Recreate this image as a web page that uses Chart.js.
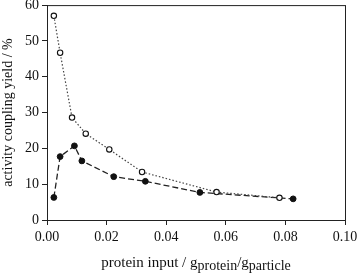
<!DOCTYPE html>
<html>
<head>
<meta charset="utf-8">
<script src="https://cdn.jsdelivr.net/npm/chart.js@4/dist/chart.umd.min.js"></script>
<style>
  html, body { margin: 0; padding: 0; background: #fff; }
  #wrap { width: 358px; height: 275px; position: relative; }
</style>
</head>
<body>
<div id="wrap"><canvas id="c"></canvas></div>
<script>
// open circles (dotted line)
const openX = [0.0023, 0.0044, 0.0084, 0.0130, 0.0209, 0.0319, 0.0569, 0.0780];
const openY = [57.0, 46.7, 28.6, 24.1, 19.7, 13.4, 7.8, 6.2];
// filled circles (dashed line)
const filledX = [0.0023, 0.0044, 0.0092, 0.0117, 0.0224, 0.0330, 0.0513, 0.0826];
const filledY = [6.3, 17.7, 20.7, 16.5, 12.1, 10.8, 7.7, 5.9];

const xTicks = [0, 0.02, 0.04, 0.06, 0.08, 0.10];
const yTicks = [0, 10, 20, 30, 40, 50, 60];

const FONT = "'Liberation Serif', 'Times New Roman', Times, serif";

const toPts = (xs, ys) => xs.map((x, i) => ({ x: x, y: ys[i] }));

// frame + x title with subscripts
const extras = {
  id: "extras",
  afterDraw(chart) {
    const { ctx, chartArea: a } = chart;
    ctx.save();
    ctx.strokeStyle = "#222";
    ctx.lineWidth = 1;
    ctx.strokeRect(a.left + 0.5, a.top + 0.5, a.right - a.left, a.bottom - a.top);

    ctx.fillStyle = "#111";
    ctx.textBaseline = "alphabetic";
    const parts = [
      ["protein input / ", 15, 0],
      ["g", 15, 0],
      ["protein", 14, 3],
      ["/", 15, 0],
      ["g", 15, 0],
      ["particle", 14, 3],
    ];
    let total = 0;
    parts.forEach(p => { ctx.font = p[1] + "px " + FONT; total += ctx.measureText(p[0]).width; });
    let x = (a.left + a.right) / 2 - total / 2;
    const base = 267;
    parts.forEach(p => {
      ctx.font = p[1] + "px " + FONT;
      ctx.fillText(p[0], x, base + p[2]);
      x += ctx.measureText(p[0]).width;
    });
    ctx.restore();
  }
};

new Chart(document.getElementById("c"), {
  type: "scatter",
  data: {
    datasets: [
      {
        label: "open",
        data: toPts(openX, openY),
        showLine: true,
        borderColor: "#444",
        borderWidth: 1.2,
        borderDash: [1.5, 2],
        pointRadius: 2.7,
        pointBorderWidth: 1.1,
        pointBackgroundColor: "#fff",
        pointBorderColor: "#111",
      },
      {
        label: "filled",
        data: toPts(filledX, filledY),
        showLine: true,
        borderColor: "#222",
        borderWidth: 1.3,
        borderDash: [6, 3],
        pointRadius: 2.9,
        pointBorderWidth: 1,
        pointBackgroundColor: "#111",
        pointBorderColor: "#111",
      },
    ],
  },
  options: {
    responsive: true,
    maintainAspectRatio: false,
    animation: false,
    layout: { padding: { left: 0, right: 13, top: 5, bottom: 0 } },
    plugins: { legend: { display: false }, tooltip: { enabled: false } },
    scales: {
      x: {
        type: "linear",
        min: 0,
        max: 0.1,
        afterBuildTicks: (s) => { s.ticks = xTicks.map(v => ({ value: v })); },
        afterFit: (s) => { s.height = 55; s.paddingLeft = 0; s.paddingRight = 0; },
        grid: { display: true, drawOnChartArea: false, drawTicks: true, tickLength: 5, color: "#222" },
        border: { color: "#222" },
        ticks: {
          color: "#111",
          font: { family: FONT, size: 14 },
          padding: 4,
          maxRotation: 0,
          callback: (v) => v.toFixed(2),
        },
      },
      y: {
        type: "linear",
        min: 0,
        max: 60,
        afterBuildTicks: (s) => { s.ticks = yTicks.map(v => ({ value: v })); },
        afterFit: (s) => { s.width = 47; s.paddingTop = 0; s.paddingBottom = 0; },
        grid: { display: true, drawOnChartArea: false, drawTicks: true, tickLength: 5, color: "#222" },
        border: { color: "#222" },
        title: {
          display: true,
          text: "activity coupling yield / %",
          color: "#111",
          font: { family: FONT, size: 14 },
          padding: { top: 0, bottom: 2 },
        },
        ticks: {
          color: "#111",
          font: { family: FONT, size: 14 },
          padding: 3,
        },
      },
    },
  },
  plugins: [extras],
});
</script>
</body>
</html>
